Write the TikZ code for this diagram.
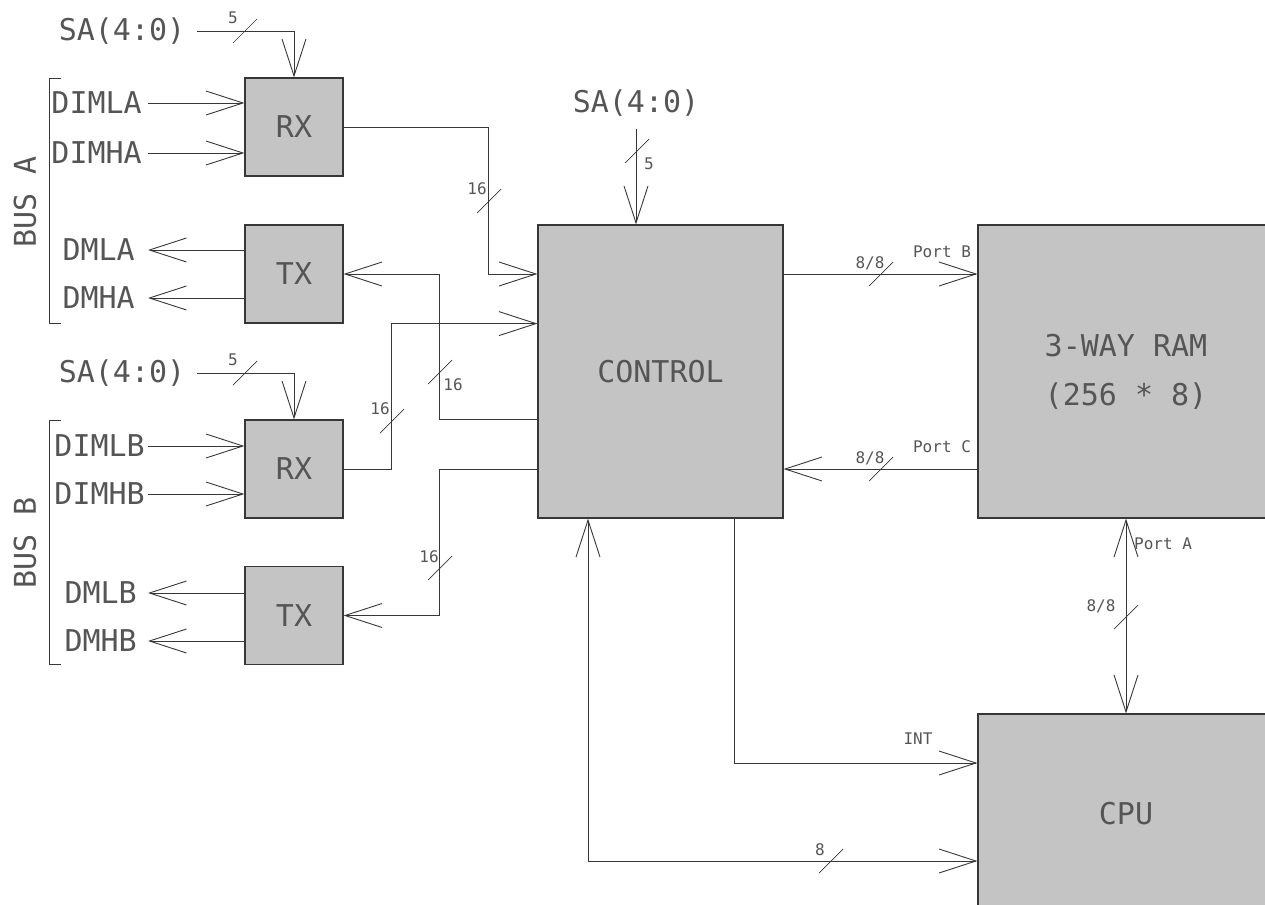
\documentclass[tikz,border=0pt]{standalone}
\usepackage{fontspec}
\newfontfamily\cadfont{DejaVu Sans Mono}
\usepackage{tikz}
\usetikzlibrary{arrows.meta,positioning}
\usepackage{xcolor}

\definecolor{boxgray}{RGB}{196,196,196}
\definecolor{linegray}{RGB}{55,55,55}
\definecolor{textgray}{RGB}{85,85,85}

\tikzset{
  barb/.tip={Straight Barb[length=37pt,width=24pt]},
  block/.style={draw=linegray, fill=boxgray, line width=1.2pt, inner sep=0pt,
    text=textgray, font=\cadfont\fontsize{30}{49}\selectfont},
  bigtext/.style={inner sep=0pt, text=textgray, font=\cadfont\fontsize{30}{36}\selectfont},
  smalltext/.style={inner sep=0pt, text=textgray, font=\cadfont\fontsize{16}{19}\selectfont},
  wire/.style={draw=linegray, line width=0.9pt},
  sig/.style={wire, -barb},
  both/.style={wire, barb-barb},
  tick/.style={draw=linegray, line width=0.7pt},
}

\begin{document}
\begin{tikzpicture}[x=1pt, y=-1pt]
  \useasboundingbox (0,0) rectangle (1265,904);
  \clip (0,0) rectangle (1265,904);

  % blocks
  \node[block, minimum width=98pt, minimum height=98pt] (rxa) at (294,127) {RX};
  \node[block, minimum width=98pt, minimum height=98pt] (txa) at (294,274) {TX};
  \node[block, minimum width=98pt, minimum height=98pt] (rxb) at (294,469) {RX};
  \node[block, minimum width=98pt, minimum height=98pt] (txb) at (294,615.5) {TX};
  \node[block, minimum width=245pt, minimum height=293pt] (ctrl) at (660.5,371.5) {CONTROL};
  \node[block, minimum width=296pt, minimum height=293pt, align=center] (ram) at (1126,371.5) {3-WAY RAM\\(256 * 8)};
  \node[block, minimum width=296pt, minimum height=200pt] (cpu) at (1126,814) {CPU};

  % bus A
  \node[bigtext, rotate=90] (busa) at (25,202) {BUS A};
  \draw[wire] (61,78) -- (49,78) -- (49,323) -- (61,323);
  \node[bigtext] (saa) at (122,31) {SA(4:0)};
  \node[bigtext, anchor=east] (dimla) at (142,103) {DIMLA};
  \node[bigtext, anchor=east] (dimha) at (142,153) {DIMHA};
  \node[bigtext, anchor=east] (dmla) at (135,250) {DMLA};
  \node[bigtext, anchor=east] (dmha) at (135,298) {DMHA};
  \draw[sig] ([xshift=12pt]saa.east) -| (rxa.north);
  \draw[tick] (245,31) ++(-12,12) -- ++(24,-24);
  \node[smalltext] (wa) at (233,18) {5};
  \draw[sig] ([xshift=6pt]dimla.east) -- (rxa.west |- dimla.east);
  \draw[sig] ([xshift=6pt]dimha.east) -- (rxa.west |- dimha.east);
  \draw[sig] (txa.west |- dmla.east) -- ([xshift=13pt]dmla.east);
  \draw[sig] (txa.west |- dmha.east) -- ([xshift=13pt]dmha.east);

  % bus B
  \node[bigtext, rotate=90] (busb) at (25,543) {BUS B};
  \draw[wire] (61,420) -- (49,420) -- (49,664) -- (61,664);
  \node[bigtext] (sab) at (122,373) {SA(4:0)};
  \node[bigtext, anchor=east] (dimlb) at (145,446) {DIMLB};
  \node[bigtext, anchor=east] (dimhb) at (145,494) {DIMHB};
  \node[bigtext, anchor=east] (dmlb) at (137,593) {DMLB};
  \node[bigtext, anchor=east] (dmhb) at (137,641) {DMHB};
  \draw[sig] ([xshift=12pt]sab.east) -| (rxb.north);
  \draw[tick] (245,373) ++(-12,12) -- ++(24,-24);
  \node[smalltext] (wb) at (233,360) {5};
  \draw[sig] ([xshift=3pt]dimlb.east) -- (rxb.west |- dimlb.east);
  \draw[sig] ([xshift=3pt]dimhb.east) -- (rxb.west |- dimhb.east);
  \draw[sig] (txb.west |- dmlb.east) -- ([xshift=11pt]dmlb.east);
  \draw[sig] (txb.west |- dmhb.east) -- ([xshift=11pt]dmhb.east);

  % rx/tx to control
  \draw[sig] (rxa.east) -| ([xshift=-49pt]ctrl.west |- txa.east) -- (ctrl.west |- txa.east);
  \draw[tick] (489,201) ++(-12,12) -- ++(24,-24);
  \node[smalltext] (w1) at (477,189) {16};
  \draw[sig] (ctrl.west |- rxb.north) -| ([xshift=-98pt]ctrl.west |- txa.east) -- (txa.east);
  \draw[tick] (440,372) ++(-12,12) -- ++(24,-24);
  \node[smalltext] (w2) at (453,385) {16};
  \draw[sig] (rxb.east) -| ([xshift=-146pt]ctrl.west |- txa.south) -- (ctrl.west |- txa.south);
  \draw[tick] (392,421) ++(-12,12) -- ++(24,-24);
  \node[smalltext] (w3) at (380,409) {16};
  \draw[sig] (ctrl.west |- rxb.east) -| ([xshift=-98pt]ctrl.west |- txb.east) -- (txb.east);
  \draw[tick] (440,568) ++(-12,12) -- ++(24,-24);
  \node[smalltext] (w4) at (429,557) {16};

  % SA into control
  \node[bigtext] (sac) at (636,103) {SA(4:0)};
  \draw[sig] ([yshift=-12pt]sac.south) -- (ctrl.north -| sac.south);
  \draw[tick] (637,151) ++(-12,12) -- ++(24,-24);
  \node[smalltext] (wc) at (649,164) {5};

  % ram ports
  \draw[sig] (ctrl.east |- txa.east) -- (ram.west |- txa.east);
  \draw[tick] (881,274) ++(-12,12) -- ++(24,-24);
  \node[smalltext] (wpb) at (870,263) {8/8};
  \node[smalltext] (portb) at (942,252) {Port B};
  \draw[sig] (ram.west |- rxb.east) -- (ctrl.east |- rxb.east);
  \draw[tick] (881,469) ++(-12,12) -- ++(24,-24);
  \node[smalltext] (wpc) at (870,458) {8/8};
  \node[smalltext] (portc) at (942,447) {Port C};
  \draw[both] (ram.south) -- (cpu.north);
  \draw[tick] (1126,617) ++(-12,12) -- ++(24,-24);
  \node[smalltext] (wpa) at (1101,606) {8/8};
  \node[smalltext] (porta) at (1163,544) {Port A};

  % control to cpu
  \draw[sig] ([xshift=73.5pt]ctrl.south) |- ([yshift=51pt]cpu.west);
  \node[smalltext] (int) at (918,739) {INT};
  \draw[both] ([xshift=-72.5pt]ctrl.south) |- ([yshift=-47pt]cpu.west);
  \draw[tick] (831,861) ++(-12,12) -- ++(24,-24);
  \node[smalltext] (w8) at (820,850) {8};
\end{tikzpicture}
\end{document}
